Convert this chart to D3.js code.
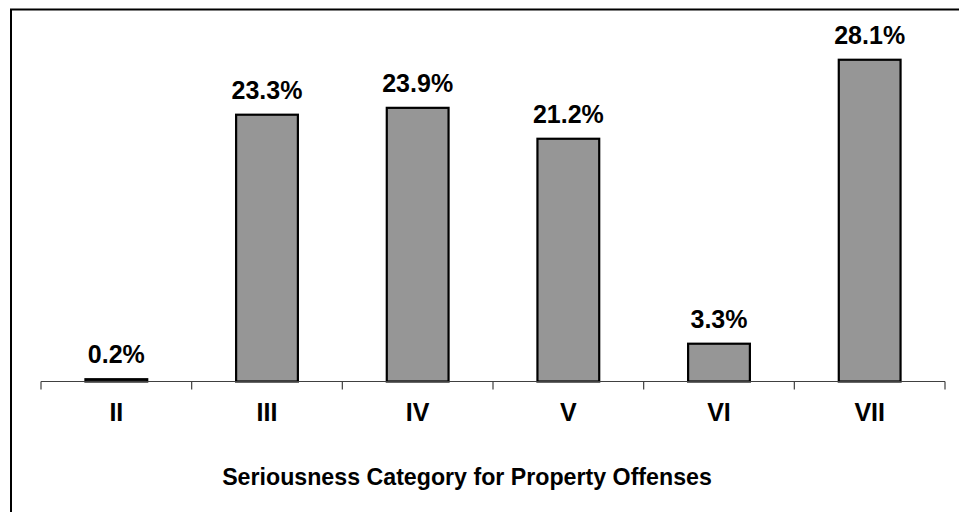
<!DOCTYPE html>
<meta charset="utf-8">
<script src="https://d3js.org/d3.v7.min.js"></script>
<head>
  <style>
  body { margin: 0; background: #fff; }
  text { font-family: "Liberation Sans", Arial, sans-serif; font-weight: bold; fill: #000; }
  </style>
</head>
<body>
<div id="chart"></div>
<script>

  // data
  var categories = ["II", "III", "IV", "V", "VI", "VII"]
  var percents = [0.2, 23.3, 23.9, 21.2, 3.3, 28.1]
  var labels = ["0.2%", "23.3%", "23.9%", "21.2%", "3.3%", "28.1%"]
  var axisTitle = "Seriousness Category for Property Offenses"

  var width = 959
      height = 512

  var svg = d3.select("#chart")
    .append("svg")
    .attr("width", width)
    .attr("height", height)

  // outer frame (right and bottom edges run off the picture)
  svg.append("rect")
    .attr("x", 11)
    .attr("y", 9.5)
    .attr("width", 1000)
    .attr("height", 600)
    .attr("fill", "none")
    .attr("stroke", "#000")
    .attr("stroke-width", 2)

  var x = d3.scaleBand()
    .domain(categories)
    .range([41, 945])
    .paddingInner(0.59)
    .paddingOuter(0.295)

  var y = d3.scaleLinear()
    .domain([0, 30])
    .range([381.5, 38])

  // bars
  svg.selectAll(".bar")
    .data(percents)
    .enter()
    .append("rect")
    .attr("class", "bar")
    .attr("x", function(d, i) { return x(categories[i]) })
    .attr("y", function(d) { return y(d) })
    .attr("width", x.bandwidth())
    .attr("height", function(d) { return y(0) - y(d) })
    .attr("fill", "#969696")
    .attr("stroke", "#000")
    .attr("stroke-width", 2.2)

  // x axis: line with ticks between categories
  var ticks = d3.range(categories.length + 1).map(function(i) { return 41 + i * x.step() })
  svg.append("line")
    .attr("x1", 41).attr("x2", 945)
    .attr("y1", y(0)).attr("y2", y(0))
    .attr("stroke", "#404040")
    .attr("stroke-width", 1.2)
  svg.selectAll(".tick")
    .data(ticks)
    .enter()
    .append("line")
    .attr("class", "tick")
    .attr("x1", function(d) { return d }).attr("x2", function(d) { return d })
    .attr("y1", y(0)).attr("y2", y(0) + 8)
    .attr("stroke", "#404040")
    .attr("stroke-width", 1.2)

  // value labels
  svg.selectAll(".value")
    .data(percents)
    .enter()
    .append("text")
    .attr("class", "value")
    .attr("x", function(d, i) { return x(categories[i]) + x.bandwidth() / 2 })
    .attr("y", function(d) { return y(d) - 16 })
    .attr("text-anchor", "middle")
    .style("font-size", "25px")
    .text(function(d, i) { return labels[i] })

  // category labels
  svg.selectAll(".cat")
    .data(categories)
    .enter()
    .append("text")
    .attr("class", "cat")
    .attr("x", function(d) { return x(d) + x.bandwidth() / 2 })
    .attr("y", 421)
    .attr("text-anchor", "middle")
    .style("font-size", "25px")
    .text(function(d) { return d })

  svg.append("text")
    .attr("x", 467)
    .attr("y", 485)
    .attr("text-anchor", "middle")
    .style("font-size", "23.2px")
    .text(axisTitle)

</script>
</body>
